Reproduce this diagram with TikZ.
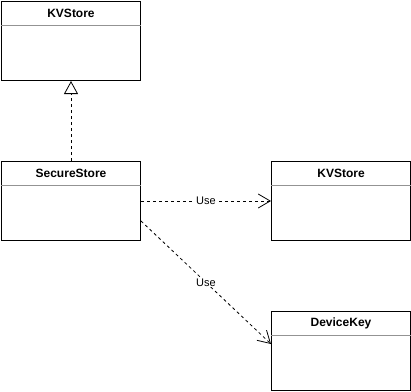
\documentclass[tikz,border=0pt]{standalone}
\usepackage{fontspec}
\setmainfont{Liberation Sans}
\usetikzlibrary{positioning,arrows.meta}
\begin{document}
\begin{tikzpicture}[
    x=1pt, y=-1pt,
    classbox/.style={draw, line width=1pt, anchor=north west, minimum width=139pt, minimum height=79pt, inner sep=0pt},
    classtitle/.style={font=\bfseries\fontsize{12}{14}\selectfont, minimum height=24pt, inner sep=0pt},
    sepline/.style={draw=gray!85, line width=1pt},
    realize/.style={dash pattern=on 3pt off 3pt, line width=0.8pt, -{Triangle[open, length=13pt, width=14pt]}},
    usage/.style={dash pattern=on 3pt off 3pt, line width=0.8pt, -{Straight Barb[length=12pt, width=14pt]}},
    uselabel/.style={font=\fontsize{11}{13}\selectfont, fill=white, inner sep=1pt}
]
\useasboundingbox (0,0) rectangle (411,391);

% classes
\node[classbox] (kvstore) at (1,1) {};
\node[classbox] (securestore) at (1,161) {};
\node[classbox] (kvstoreuse) at (271,161) {};
\node[classbox] (devicekey) at (271,311) {};

\node[classtitle, below=0pt of kvstore.north] (kvstoretitle) {KVStore};
\node[classtitle, below=0pt of securestore.north] (securestoretitle) {SecureStore};
\node[classtitle, below=0pt of kvstoreuse.north] (kvstoreusetitle) {KVStore};
\node[classtitle, below=0pt of devicekey.north] (devicekeytitle) {DeviceKey};

\draw[sepline] (kvstore.west |- kvstoretitle.south) -- (kvstore.east |- kvstoretitle.south);
\draw[sepline] (securestore.west |- securestoretitle.south) -- (securestore.east |- securestoretitle.south);
\draw[sepline] (kvstoreuse.west |- kvstoreusetitle.south) -- (kvstoreuse.east |- kvstoreusetitle.south);
\draw[sepline] (devicekey.west |- devicekeytitle.south) -- (devicekey.east |- devicekeytitle.south);

% relations
\draw[realize] (securestore.north) -- (kvstore.south);
\draw[usage] (securestore.east) -- node[uselabel] (use1) {Use} (kvstoreuse.west);
\draw[usage] ([yshift=-20pt]securestore.east) -- node[uselabel] (use2) {Use} ([yshift=7pt]devicekey.west);

\end{tikzpicture}
\end{document}
